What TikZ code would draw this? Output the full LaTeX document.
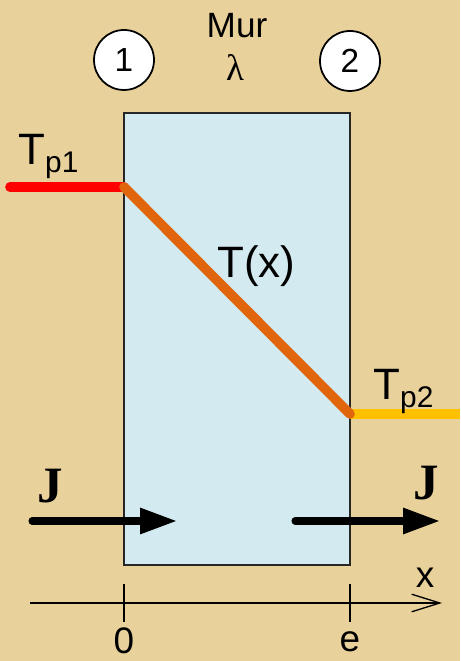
\documentclass[tikz,border=0pt]{standalone}
\usepackage{fontspec}
\setmainfont{Liberation Sans}
\newfontfamily\fluxfont{Liberation Serif}
\usetikzlibrary{arrows.meta}
\definecolor{Parchemin}{HTML}{E9D19B}
\definecolor{MurBleu}{HTML}{D2EAF0}
\definecolor{ProfilOrange}{HTML}{E0650C}
\definecolor{FaceJaune}{HTML}{FFC000}
\definecolor{FaceRouge}{HTML}{FF0000}
\newcommand{\Tparoi}[1]{T\raisebox{-0.17em}{\fontsize{17}{17}\selectfont #1}}

\begin{document}
\begin{tikzpicture}[x=0.02cm,y=0.02cm,
 lbl/.style={inner sep=0pt,font=\fontsize{25}{25}\selectfont},
 axlbl/.style={inner sep=0pt,anchor=base,font=\fontsize{21}{21}\selectfont},
 face/.style={circle,draw=black,line width=1pt,fill=white,minimum size=1.2cm,
 inner sep=0pt,font=\fontsize{19}{19}\selectfont},
 profil/.style={line width=5.5pt,line cap=round},
 flux/.style={line width=4pt,line cap=round,-{Triangle[length=21pt,width=14pt]}},
 jlbl/.style={inner sep=0pt,anchor=base west,font=\fluxfont\bfseries\fontsize{29}{29}\selectfont},
 axe/.style={line width=0.75pt,-{Straight Barb[length=16pt,width=10pt]}},
 graduation/.style={line width=0.75pt}]
\fill[Parchemin] (0,0) rectangle (460,661);
\useasboundingbox (0,0) rectangle (460,661);
\node[draw=black!85,line width=0.8pt,fill=MurBleu,minimum width=4.52cm,minimum height=9.04cm,
 inner sep=0pt] (mur) at (237,322) {};
\node[face] (f1) at (124,601) {1};
\node[face] (f2) at (350,600) {2};
\node[lbl,font=\fontsize{20}{20}\selectfont] (titre) at (237,635) {Mur};
\node[lbl,font=\fluxfont\fontsize{21}{21}\selectfont] (lambda) at (235,593) {λ};
% profil de temperature
\coordinate (g) at (10,474);
\coordinate (p1) at (124,474);
\coordinate (p2) at (350,247);
\coordinate (d) at (460,247);
\draw[profil,FaceRouge] (g) -- (p1);
\draw[profil,FaceJaune,line cap=butt] (p2) -- (d);
\draw[profil,ProfilOrange] (p1) -- (p2);
\node[lbl,anchor=base west] (tp1) at (18,496) {\Tparoi{p1}};
\node[lbl,anchor=base west] (tx) at (217,383) {T(x)};
\node[lbl,anchor=base west] (tp2) at (373,261) {\Tparoi{p2}};
% flux
\coordinate (ja) at (32,140);
\coordinate (jb) at (177,140);
\coordinate (jc) at (295,140);
\coordinate (jd) at (440,140);
\draw[flux] (ja) -- (jb);
\draw[flux] (jc) -- (jd);
\node[jlbl] (j1) at (37,158) {J};
\node[jlbl] (j2) at (413,161) {J};
% axe
\coordinate (ox) at (30,58);
\coordinate (fx) at (442,58);
\draw[axe] (ox) -- (fx);
\foreach \xpos in {124,350} \draw[graduation] (\xpos,77) -- (\xpos,39);
\node[axlbl] (zero) at (124,8) {0};
\node[axlbl] (ep) at (350,10) {e};
\node[axlbl] (xl) at (425,73) {x};
\end{tikzpicture}
\end{document}
